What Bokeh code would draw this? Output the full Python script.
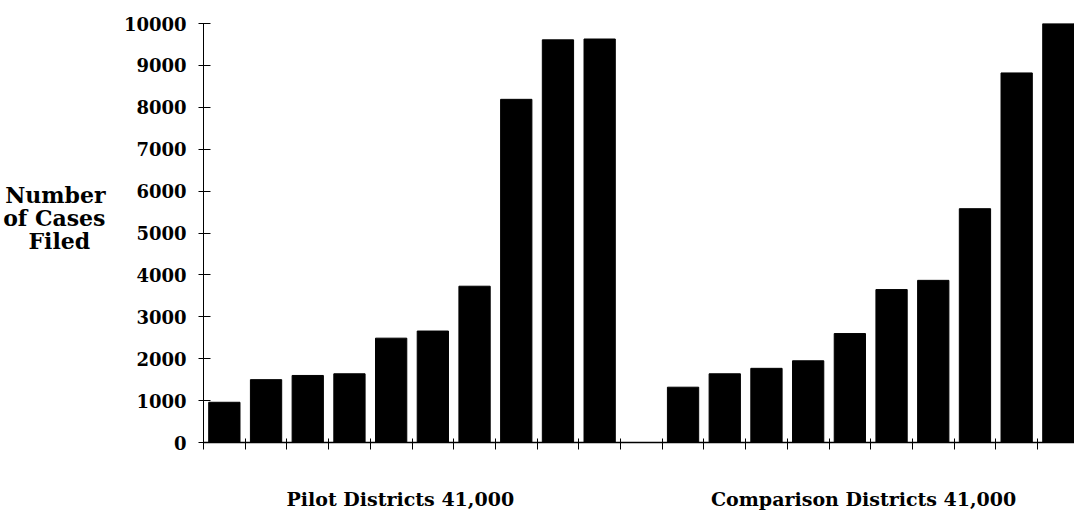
from bokeh.plotting import figure
from bokeh.models import FixedTicker, Range1d, LinearAxis, ColumnDataSource
from bokeh.embed import file_html
from bokeh.resources import INLINE

# ---- data ----
pilot_values = [960, 1500, 1600, 1640, 2490, 2660, 3730, 8190, 9610, 9630]
comparison_values = [1320, 1640, 1770, 1950, 2600, 3650, 3870, 5580, 8820, 10000]
group_labels = ["Pilot Districts  41,000", "Comparison Districts 41,000"]
y_ticks = [0, 1000, 2000, 3000, 4000, 5000, 6000, 7000, 8000, 9000, 10000]
y_title_lines = ["Number", "of Cases", "Filed\u00a0\u00a0"]

FONT = "DejaVu Serif"

# slot positions: pilot 0..9, one empty slot, comparison 11..20
pilot_x = list(range(len(pilot_values)))
comp_x = [len(pilot_values) + 1 + i for i in range(len(comparison_values))]
xs = pilot_x + comp_x
tops = pilot_values + comparison_values
src = ColumnDataSource(dict(x=xs, top=tops))

p = figure(width=1074, height=520, output_backend="svg", toolbar_location=None,
           x_range=Range1d(-0.5, 20.387), y_range=Range1d(0, 10000),
           min_border_left=203, min_border_right=0, min_border_top=23, min_border_bottom=78)
p.outline_line_color = None
p.xgrid.visible = False
p.ygrid.visible = False
p.background_fill_color = "white"
p.border_fill_color = "white"

p.vbar(x="x", top="top", width=0.75, bottom=0, source=src,
       fill_color="black", line_color="black")

# y axis
ya = p.yaxis[0]
ya.ticker = FixedTicker(ticks=y_ticks)
ya.major_tick_in = 7
ya.major_tick_out = 5
ya.minor_tick_line_color = None
ya.major_label_standoff = 12
ya.major_label_text_font = FONT
ya.major_label_text_font_style = "bold"
ya.major_label_text_font_size = "18px"
ya.major_label_text_color = "black"
ya.axis_line_color = "black"
ya.major_tick_line_color = "black"

# y-axis title: a second, line-less axis whose labels are the three title lines
title_pos = [5911, 5363, 4802]
ta = LinearAxis(ticker=FixedTicker(ticks=title_pos),
                major_label_overrides={v: t for v, t in zip(title_pos, y_title_lines)},
                axis_line_color=None, major_tick_line_color=None, minor_tick_line_color=None,
                major_tick_in=0, major_tick_out=0, major_label_standoff=15,
                major_label_text_font=FONT, major_label_text_font_style="bold",
                major_label_text_font_size="22px", major_label_text_color="black")
p.add_layout(ta, "left")

# x axis: minor ticks at slot boundaries, group labels as major labels
nslots = len(xs) + 1
bounds = [i - 0.5 for i in range(nslots)]
centers = [4.3, 15.33]
xa = p.xaxis[0]
xa.ticker = FixedTicker(ticks=centers, minor_ticks=bounds)
xa.major_label_overrides = {centers[0]: group_labels[0], centers[1]: group_labels[1]}
xa.major_tick_in = 0
xa.major_tick_out = 0
xa.minor_tick_in = 4
xa.minor_tick_out = 7
xa.minor_tick_line_color = "black"
xa.axis_line_color = "black"
xa.axis_line_width = 1.5
xa.major_label_standoff = 38
xa.major_label_text_font = FONT
xa.major_label_text_font_style = "bold"
xa.major_label_text_font_size = "19px"
xa.major_label_text_color = "black"

open("out.html", "w").write(file_html(p, INLINE))
